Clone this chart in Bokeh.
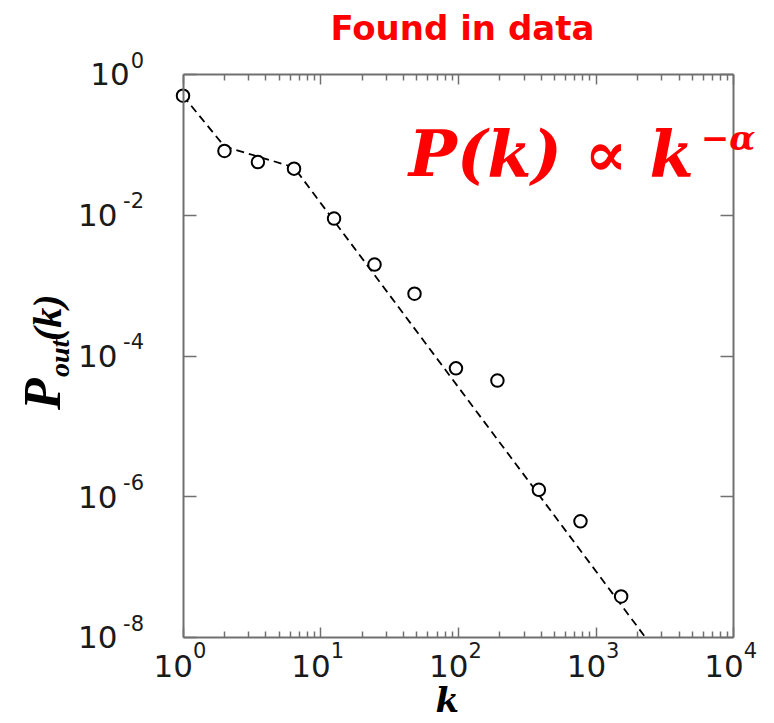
import math
from bokeh.plotting import figure
from bokeh.models import FixedTicker, LogAxis, Label, CustomJSTickFormatter
from bokeh.embed import file_html
from bokeh.resources import INLINE

# ---- data ----
degree_k = [1.0, 2.0, 3.5, 6.4, 12.5, 24.6, 48.0, 96.0, 192.0, 384.0, 770.0, 1520.0]
p_out = [0.50, 0.082, 0.057, 0.046, 0.0090, 0.0020, 7.7e-4, 6.7e-5, 4.5e-5, 1.26e-6, 4.5e-7, 3.85e-8]

fit_k = [1.0, 2.0, 6.4, 2290.0]
fit_p = [0.50, 0.095, 0.048, 1e-8]

x_tick_values = [1, 10, 100, 1000, 10000]
x_tick_exponents = ["0", "1", "2", "3", "4"]
x_minor_values = [m * 10 ** d for d in range(4) for m in range(2, 10)]
y_tick_values = [1, 1e-2, 1e-4, 1e-6, 1e-8]
y_tick_exponents = ["0", "-2", "-4", "-6", "-8"]

title_text = "Found in data"
formula_main = "P(k) \u221d k"
formula_exp = "\u2212\u03b1"

# ---- layout ----
W, H = 766, 720
X0PX, DEC_X = 182.5, 137.7     # pixel of k=1, pixels per decade
Y0PX, DEC_Y = 74.0, 70.4       # pixel of P=1, pixels per decade
x_lo, x_hi = 10 ** (-X0PX / DEC_X), 10 ** ((W - X0PX) / DEC_X)
y_lo, y_hi = 10 ** (-(H - Y0PX) / DEC_Y), 10 ** (Y0PX / DEC_Y)
BL = 0.38  # baseline correction (fraction of font size)

AX = "#707070"
SANS = "DejaVu Sans"
SERIF = "DejaVu Serif"
TIMES = "Liberation Serif"
RED = "#ff0000"
INK = "#1a1a1a"

p = figure(x_axis_type="log", y_axis_type="log",
           x_range=(x_lo, x_hi), y_range=(y_lo, y_hi),
           width=W, height=H, min_border=0,
           toolbar_location=None, output_backend="svg",
           background_fill_color="white", border_fill_color="white",
           outline_line_color=None)
p.grid.visible = False

xt = FixedTicker(ticks=x_tick_values, minor_ticks=x_minor_values)
yt = FixedTicker(ticks=y_tick_values, minor_ticks=[])
blank = CustomJSTickFormatter(code="return ''")


def style(ax, major_in, minor_in, loc, bounds):
    ax.fixed_location = loc
    ax.bounds = bounds
    ax.formatter = blank
    ax.axis_line_color = AX
    ax.axis_line_width = 2
    ax.major_tick_line_color = AX
    ax.minor_tick_line_color = AX
    ax.major_tick_line_width = 1.5
    ax.minor_tick_line_width = 1.5
    ax.major_tick_in = major_in
    ax.major_tick_out = 0
    ax.minor_tick_in = minor_in
    ax.minor_tick_out = 0
    ax.major_label_text_font_size = "8px"
    ax.major_label_standoff = 0


p.xaxis.ticker = xt
p.yaxis.ticker = yt
style(p.xaxis[0], 10, 6, 1e-8, (1, 1e4))
style(p.yaxis[0], 13, 0, 1, (1e-8, 1))
top = LogAxis(ticker=xt)
style(top, 10, 6, 1, (1, 1e4))
p.add_layout(top, "above")
right = LogAxis(ticker=yt)
style(right, 13, 0, 1e4, (1e-8, 1))
p.add_layout(right, "right")

# ---- marks ----
p.line(fit_k, fit_p, line_color="black", line_width=1.8, line_dash="8 5")
p.scatter(degree_k, p_out, marker="circle", size=12.5, fill_color="white",
          line_color="black", line_width=2)


def label(x, y, dx, dy, text, size, font=SANS, style="normal", color=INK,
          align="left", angle=0.0):
    # dy: desired baseline offset (px, up positive); corrected for rendering
    if angle:
        dx = dx - BL * size
    else:
        dy = dy + BL * size
    p.add_layout(Label(x=x, y=y, x_offset=dx, y_offset=dy, text=text, angle=angle,
                       text_align=align, text_baseline="alphabetic",
                       text_font=font, text_font_style=style,
                       text_font_size=f"{size}px", text_color=color))


# ---- tick labels ----
BASE_PX = 31
EXP_PX = 21
for v, e in zip(x_tick_values, x_tick_exponents):
    label(v, 1e-8, 10, -40, "10", BASE_PX, align="right")
    label(v, 1e-8, 10, -20, e, EXP_PX, align="left")


def exp_width(s):
    return sum((0.58 if c == "-" else 0.636) * EXP_PX for c in s)


for v, e in zip(y_tick_values, y_tick_exponents):
    label(1, v, -39, 7, e, EXP_PX, align="right")
    label(1, v, -40 - exp_width(e), -11.5, "10", BASE_PX, align="right")

# ---- title & formula ----
label(100, 1, 4, 34, title_text, 34, style="bold", color=RED, align="center")
label(1e4, 1, -40, -103, formula_main, 64, font=SERIF, style="bold italic",
      color=RED, align="right")
label(1e4, 1, -33, -76, formula_exp, 34, font=SERIF, style="bold italic",
      color=RED, align="left")

# ---- axis titles ----
label(100, 1e-8, -11, -75, "k", 34, font=SERIF, style="bold italic",
      color="black", align="center")
ang = math.pi / 2
label(1, 1e-4, -120.5, -54, "P", 52, font=TIMES, style="bold italic",
      color="black", angle=ang)
label(1, 1e-4, -112.5, -21, "out", 28, font=TIMES, style="bold italic",
      color="black", angle=ang)
label(1, 1e-4, -120.5, 15, "(k)", 40, font=TIMES, style="bold italic",
      color="black", angle=ang)

open("out.html", "w").write(file_html(p, INLINE))
